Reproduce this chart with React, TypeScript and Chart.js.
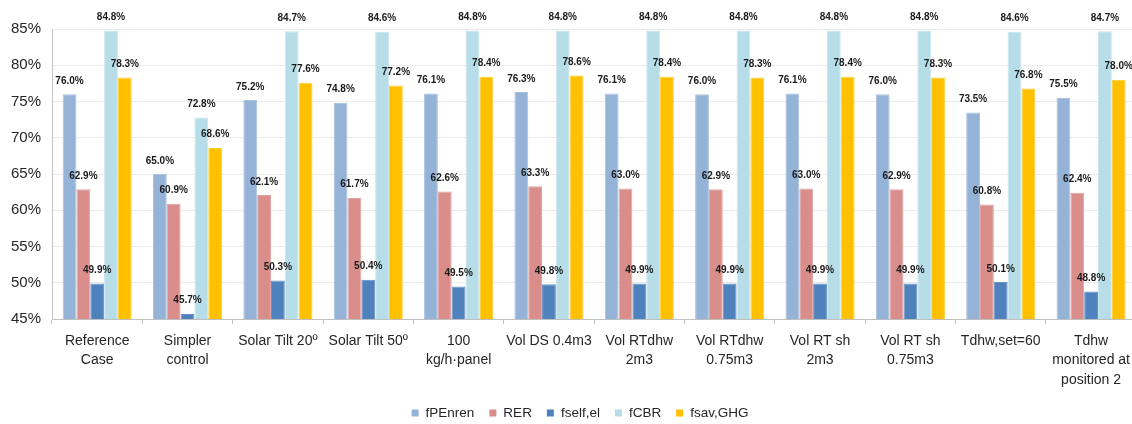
import React, { useEffect, useRef } from "react";
import { Chart, registerables } from "chart.js";
Chart.register(...registerables);

const categories: (string | string[])[] = [
  ["Reference", "Case"],
  ["Simpler", "control"],
  "Solar Tilt 20º",
  "Solar Tilt 50º",
  ["100", "kg/h·panel"],
  "Vol DS 0.4m3",
  ["Vol RTdhw", "2m3"],
  ["Vol RTdhw", "0.75m3"],
  ["Vol RT sh", "2m3"],
  ["Vol RT sh", "0.75m3"],
  "Tdhw,set=60",
  ["Tdhw", "monitored at", "position 2"],
];

const fPEnren = [76.0, 65.0, 75.2, 74.8, 76.1, 76.3, 76.1, 76.0, 76.1, 76.0, 73.5, 75.5];
const RER = [62.9, 60.9, 62.1, 61.7, 62.6, 63.3, 63.0, 62.9, 63.0, 62.9, 60.8, 62.4];
const fselfEl = [49.9, 45.7, 50.3, 50.4, 49.5, 49.8, 49.9, 49.9, 49.9, 49.9, 50.1, 48.8];
const fCBR = [84.8, 72.8, 84.7, 84.6, 84.8, 84.8, 84.8, 84.8, 84.8, 84.8, 84.6, 84.7];
const fsavGHG = [78.3, 68.6, 77.6, 77.2, 78.4, 78.6, 78.4, 78.3, 78.4, 78.3, 76.8, 78.0];

const seriesNames = ["fPEnren", "RER", "fself,el", "fCBR", "fsav,GHG"];
const seriesColors = ["#95B3D7", "#D98E8C", "#4F81BD", "#B7DEE8", "#FFC000"];
const seriesBorders = ["#A9C2E0", "#E0A3A1", "#6790C6", "#C8E6EE", "#FFCD33"];

const yTicks = [45, 50, 55, 60, 65, 70, 75, 80, 85];

const FONT = '"Liberation Sans", Arial, sans-serif';

const valueLabels = {
  id: "valueLabels",
  afterDatasetsDraw(chart: any) {
    const ctx = chart.ctx;
    ctx.save();
    ctx.font = `bold 10px ${FONT}`;
    ctx.fillStyle = "#1a1a1a";
    ctx.textAlign = "center";
    ctx.textBaseline = "alphabetic";
    chart.data.datasets.forEach((ds: any, i: number) => {
      const meta = chart.getDatasetMeta(i);
      meta.data.forEach((bar: any, j: number) => {
        const v = ds.data[j] as number;
        ctx.fillText(v.toFixed(1) + "%", bar.x, bar.y - 10.5);
      });
    });
    ctx.restore();
  },
};

const customLegend = {
  id: "customLegend",
  afterDraw(chart: any) {
    const ctx = chart.ctx;
    ctx.save();
    ctx.font = `13.5px ${FONT}`;
    ctx.textBaseline = "middle";
    ctx.textAlign = "left";
    const box = 7;
    const boxGap = 7;
    const itemGap = 15;
    const datasets = chart.data.datasets;
    const widths = datasets.map((d: any) => box + boxGap + ctx.measureText(d.label).width);
    const total = widths.reduce((a: number, b: number) => a + b, 0) + itemGap * (datasets.length - 1);
    const centerX = 580;
    const y = 413;
    let x = centerX - total / 2;
    datasets.forEach((d: any, i: number) => {
      ctx.fillStyle = d.backgroundColor;
      ctx.fillRect(x, y - box / 2, box, box);
      ctx.fillStyle = "#262626";
      ctx.fillText(d.label, x + box + boxGap, y + 0.5);
      x += widths[i] + itemGap;
    });
    ctx.restore();
  },
};

export default function App() {
  const ref = useRef<HTMLCanvasElement | null>(null);

  useEffect(() => {
    if (!ref.current) return;
    const allSeries = [fPEnren, RER, fselfEl, fCBR, fsavGHG];
    const chart = new Chart(ref.current, {
      type: "bar",
      data: {
        labels: categories as any,
        datasets: allSeries.map((data, i) => ({
          label: seriesNames[i],
          data,
          backgroundColor: seriesColors[i],
          borderColor: seriesBorders[i],
          borderWidth: 1,
          categoryPercentage: 0.765,
          barPercentage: 1,
        })),
      },
      options: {
        animation: false,
        responsive: true,
        maintainAspectRatio: false,
        layout: { padding: { top: 29, right: 0, bottom: 0, left: 0 } },
        plugins: {
          legend: { display: false },
          tooltip: { enabled: false },
        },
        scales: {
          x: {
            afterFit: (s: any) => {
              s.height = 105;
            },
            grid: {
              drawOnChartArea: false,
              drawTicks: true,
              tickLength: 5,
              color: "#BFBFBF",
              offset: true,
            },
            border: { color: "#BFBFBF", width: 1 },
            ticks: {
              color: "#262626",
              font: { family: FONT, size: 14, lineHeight: 1.4 },
              padding: 7,
              maxRotation: 0,
              autoSkip: false,
            },
          },
          y: {
            min: 45,
            max: 85,
            afterFit: (s: any) => {
              s.width = 52;
            },
            afterBuildTicks: (s: any) => {
              s.ticks = yTicks.map((v) => ({ value: v }));
            },
            grid: { color: "#EBEBEB", drawTicks: false },
            border: { color: "#C4C4C4", width: 1 },
            ticks: {
              color: "#262626",
              font: { family: FONT, size: 15 },
              padding: 11,
              callback: (v: any) => v + "%",
            },
          },
        },
      },
      plugins: [valueLabels, customLegend],
    });
    return () => chart.destroy();
  }, []);

  return (
    <div
      style={{
        position: "fixed",
        left: 0,
        top: 0,
        width: 1132,
        height: 424,
        overflow: "hidden",
        background: "#fff",
      }}
    >
      <div style={{ position: "relative", width: 1137, height: 424 }}>
        <canvas ref={ref} />
      </div>
    </div>
  );
}
